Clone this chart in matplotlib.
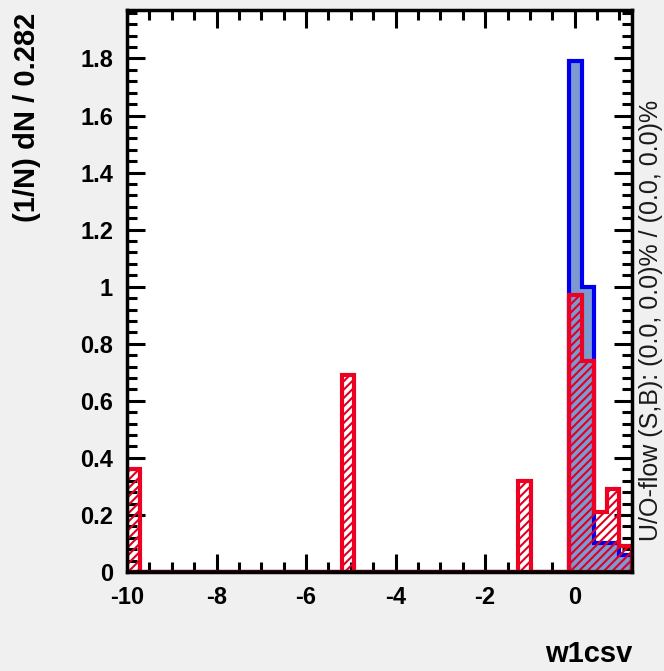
import numpy as np
import matplotlib
matplotlib.use("Agg")
import matplotlib.pyplot as plt
from matplotlib.ticker import MultipleLocator, FuncFormatter

# ---- data (normalised: (1/N) dN / 0.282) ----
bin_width = 0.282
x_min = -10.0
n_bins = 40
signal = [0, 0, 0, 0, 0, 0, 0, 0, 0, 0,
          0, 0, 0, 0, 0, 0, 0, 0, 0, 0,
          0, 0, 0, 0, 0, 0, 0, 0, 0, 0,
          0, 0, 0, 0, 0, 1.79, 1.00, 0.10, 0.10, 0.06]
background = [0.36, 0, 0, 0, 0, 0, 0, 0, 0, 0,
              0, 0, 0, 0, 0, 0, 0, 0.69, 0, 0,
              0, 0, 0, 0, 0, 0, 0, 0, 0, 0,
              0, 0.32, 0, 0, 0, 0.97, 0.74, 0.21, 0.29, 0.09]
x_label = "w1csv"
y_label = "(1/N) dN / 0.282"
overflow_text = "U/O-flow (S,B): (0.0, 0.0)% / (0.0, 0.0)%"

edges = x_min + bin_width * np.arange(n_bins + 1)

plt.rcParams['font.family'] = ['Liberation Sans', 'DejaVu Sans']
plt.rcParams['hatch.linewidth'] = 1.5

fig = plt.figure(figsize=(6.64, 6.71), dpi=100, facecolor='#f0f0f0')
ax = fig.add_axes([127/664, 1-572/671, (632-127)/664, (572-10)/671])
ax.set_facecolor('white')

ax.stairs(signal, edges, fill=True, facecolor='#7d99d1', edgecolor='none', zorder=2)
ax.stairs(signal, edges, fill=False, edgecolor='#0000ee', linewidth=3, zorder=3)
ax.stairs(background, edges, fill=True, facecolor='none', edgecolor='#dd0022',
          hatch='////', linewidth=0, zorder=4)
ax.stairs(background, edges, fill=False, edgecolor='#ee0022', linewidth=3, zorder=5)
ax.plot([edges[0], edges[-1]], [0, 0], color='#500000', lw=3, zorder=6)

ax.set_xlim(edges[0], edges[-1])
ax.set_ylim(0, 1.97)

ax.xaxis.set_major_locator(MultipleLocator(2))
ax.xaxis.set_minor_locator(MultipleLocator(0.5))
ax.yaxis.set_major_locator(MultipleLocator(0.2))
ax.yaxis.set_minor_locator(MultipleLocator(0.04))
fmt = FuncFormatter(lambda v, p: ("%g" % round(v, 3)))
ax.xaxis.set_major_formatter(fmt)
ax.yaxis.set_major_formatter(fmt)

ax.tick_params(which='both', direction='in', top=True, right=True, width=2.2, color='black')
ax.tick_params(which='major', length=13)
ax.tick_params(which='minor', length=7)
ax.tick_params(axis='both', labelsize=17, pad=10)
for lab in ax.get_xticklabels() + ax.get_yticklabels():
    lab.set_fontweight('bold')
for sp in ax.spines.values():
    sp.set_linewidth(2.5)
    sp.set_zorder(10)

fig.text(27/664, 1-13/671, y_label, rotation=90, ha='center', va='top',
         fontsize=21, fontweight='bold')
fig.text(632/664, 1-662/671, x_label, ha='right', va='baseline',
         fontsize=21, fontweight='bold')
fig.text(651/664, 1-320/671, overflow_text, rotation=90, ha='center', va='center',
         fontsize=18, color='#1a1a1a')

fig.savefig("out.png", dpi=100, facecolor=fig.get_facecolor())
